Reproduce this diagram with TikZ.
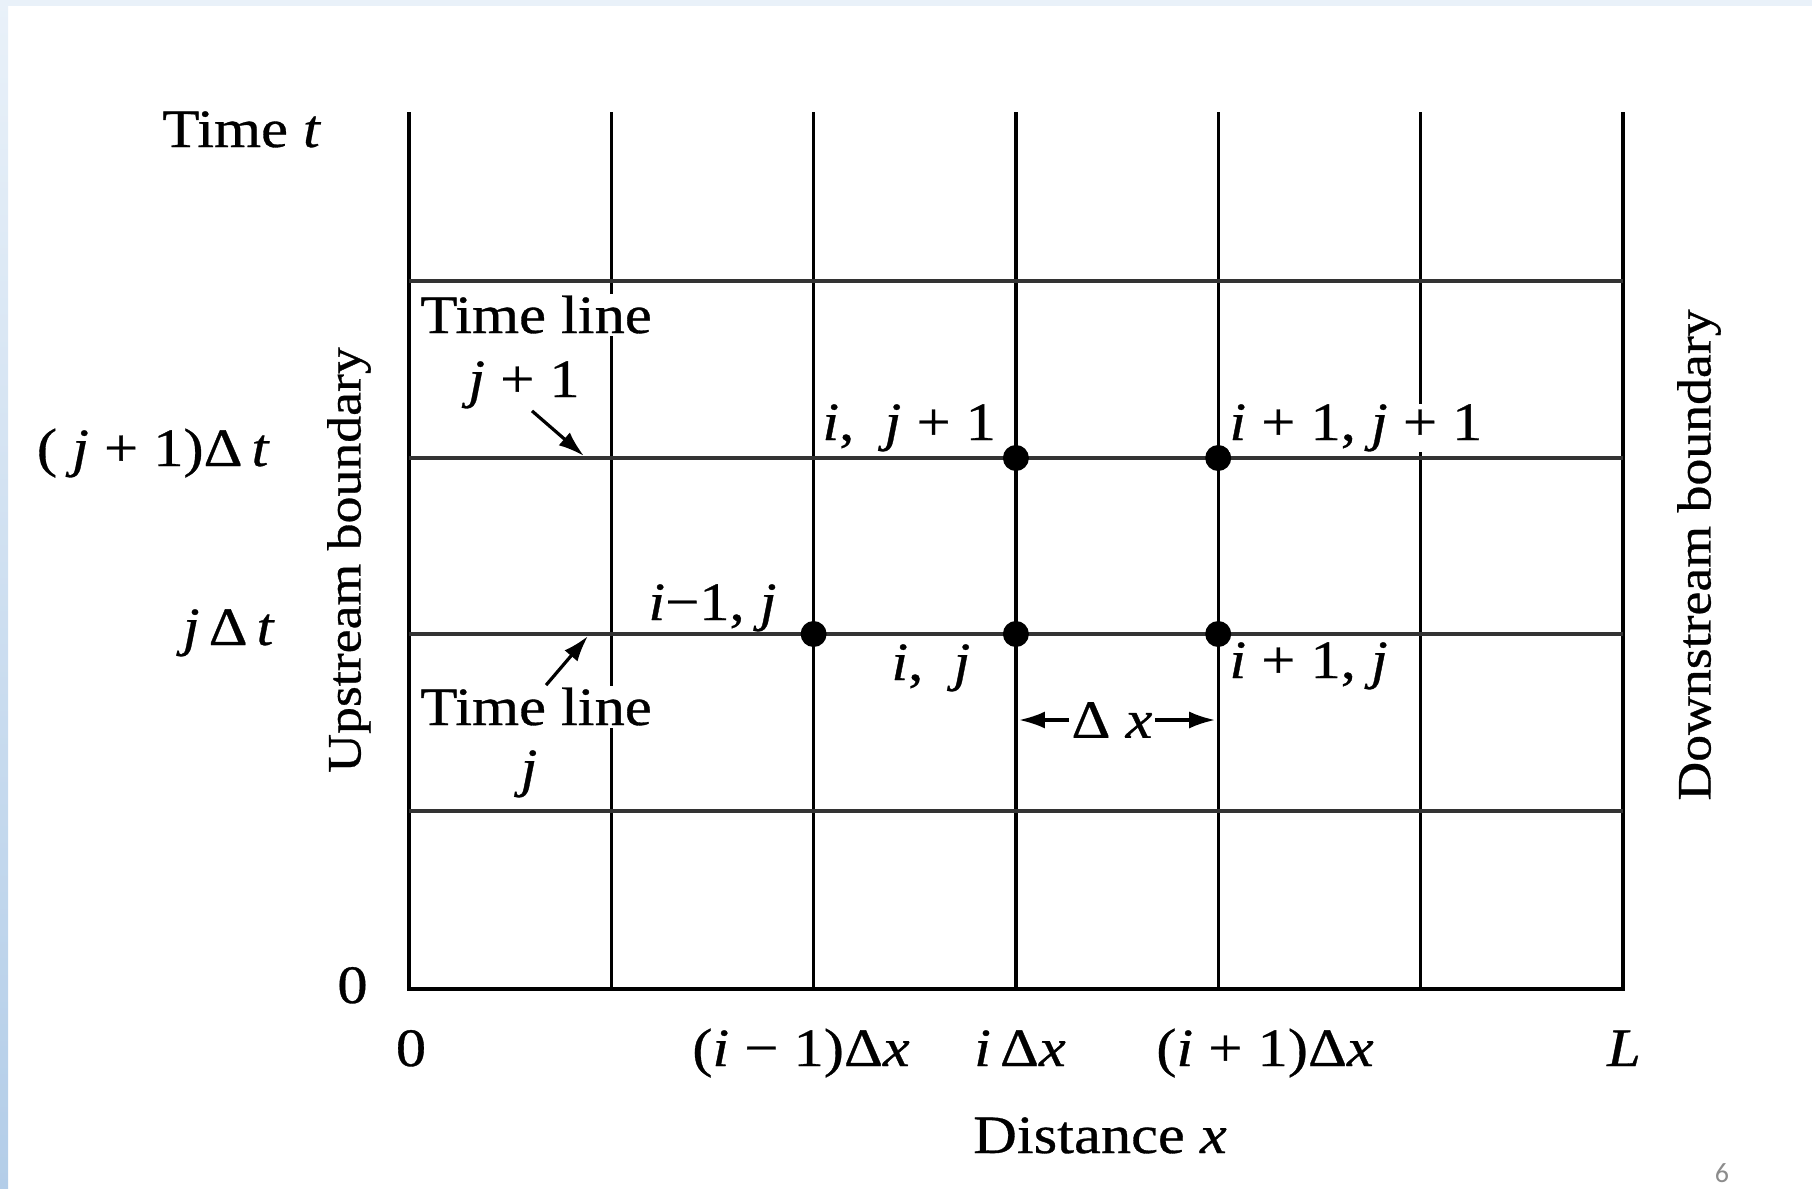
\documentclass[tikz,border=0pt]{standalone}
\usepackage{fontspec}
\setmainfont{Liberation Serif}[FakeStretch=1.12,FakeBold=0.6]
\newfontfamily\slidefont{Carlito}
\usetikzlibrary{arrows.meta}
\definecolor{rimtop}{HTML}{E9F1F9}
\definecolor{rimbot}{HTML}{B3CDE8}
\definecolor{pagenum}{HTML}{8C8C8C}
\newcommand{\itv}[1]{\textit{#1}}

\begin{document}
\begin{tikzpicture}[x=0.5pt,y=-0.5pt,
   gridline/.style={black,line width=1.6pt},
   edge/.style={black,line width=2.1pt},
   timeline/.style={black!80,line width=1.6pt},
   lbl/.style={font=\fontsize{27}{32}\selectfont,inner sep=1pt},
   ptlbl/.style={lbl,inner sep=0pt,anchor=base west},
   side/.style={font=\fontsize{24}{28}\selectfont,rotate=90,inner sep=0pt},
   pointer/.style={-{Latex[length=13pt,width=8.5pt]},line width=1.6pt},
   dot/.style={circle,fill=black,inner sep=0pt,minimum size=13pt}]

  \useasboundingbox (0,0) rectangle (1812,1189);

  % slide rim
  \shade[top color=rimtop,bottom color=rimbot] (0,0) rectangle (8,1189);
  \fill[rimtop] (8,0) rectangle (1812,6);

  % grid points
  \foreach \c in {0,...,6}
    \foreach \r/\y in {0/989,1/811,2/634,3/458,4/281}
      \coordinate (g-\c-\r) at ({409+202.3*\c},\y);

  % x lines and time lines
  \foreach \c in {1,...,5}
    \draw[gridline] (g-\c-0) -- ++(0,-877);
  \draw[edge] (g-0-0) -- ++(0,-877);
  \draw[edge] (g-6-0) -- ++(0,-877);
  \foreach \r in {1,...,4}
    \draw[timeline] (g-0-\r) -- (g-6-\r);
  \draw[edge] ([xshift=-1pt]g-0-0) -- ([xshift=1pt]g-6-0);

  % --- axis labels ---
  \node[lbl,anchor=base west] (tlabel) at (160,147) {Time \itv{t}};
  \node[lbl,anchor=base east] (tjone) at (272,466) {( \itv{j} + 1)Δ\,\itv{t}};
  \node[lbl,anchor=base east] (tj) at (277,645) {\itv{j}\,Δ\,\itv{t}};
  \node[lbl,anchor=base east] (tzero) at (370,1003) {0};
  \node[lbl,anchor=base] (xzero) at (411,1066) {0};
  \node[lbl,anchor=base] (ximone) at (801,1066) {(\itv{i} − 1)Δ\itv{x}};
  \node[lbl,anchor=base] (xi) at (1020,1066) {\itv{i}\,Δ\itv{x}};
  \node[lbl,anchor=base] (xipone) at (1265,1066) {(\itv{i} + 1)Δ\itv{x}};
  \node[lbl,anchor=base] (xL) at (1624,1066) {\itv{L}};
  \node[lbl,anchor=base] (dist) at (1100,1153) {Distance \itv{x}};

  % --- boundaries ---
  \node[side] (upstream) at (349,560) {Upstream boundary};
  \node[side] (downstream) at (1699,555) {Downstream boundary};

  % --- time line callouts ---
  \node[lbl,fill=white,anchor=base west] (tlup) at (418,333) {Time line};
  \node[lbl,anchor=base] (jpone) at (524,397) {\itv{j} + 1};
  \node[lbl,fill=white,anchor=base west] (tllow) at (418,725) {Time line};
  \node[lbl,anchor=base] (jlow) at (529,786) {\itv{j}};
  \coordinate (hitup) at (584,456);
  \coordinate (hitlow) at (588,636);
  \draw[pointer] ([xshift=4pt]jpone.south) -- (hitup);
  \draw[pointer] ([xshift=5pt]tllow.north) -- (hitlow);

  % --- computational points ---
  \node[dot] (pimj) at (g-2-2) {};
  \node[dot] (pij) at (g-3-2) {};
  \node[dot] (pipj) at (g-4-2) {};
  \node[dot] (pijp) at (g-3-3) {};
  \node[dot] (pipjp) at (g-4-3) {};
  \node[ptlbl] (lijp) at (822,440) {\itv{i}, \ \itv{j} + 1};
  \node[ptlbl,fill=white] (lipjp) at (1229,440) {\itv{i} + 1, \itv{j} + 1};
  \node[ptlbl] (limj) at (648,620) {\itv{i}−1, \itv{j}};
  \node[ptlbl] (lij) at (891,680) {\itv{i}, \ \itv{j}};
  \node[ptlbl] (lipj) at (1229,678) {\itv{i} + 1, \itv{j}};

  % --- spacing ---
  \node[lbl] (dx) at (1112,720) {Δ \itv{x}};
  \draw[pointer] (dx.west) -- ([xshift=1.5pt]dx.west -| pij);
  \draw[pointer] (dx.east) -- ([xshift=-1.5pt]dx.east -| pipj);

  % page number
  \node[font=\slidefont\fontsize{14}{16}\selectfont,text=pagenum] (pg) at (1722,1173) {6};
\end{tikzpicture}
\end{document}
